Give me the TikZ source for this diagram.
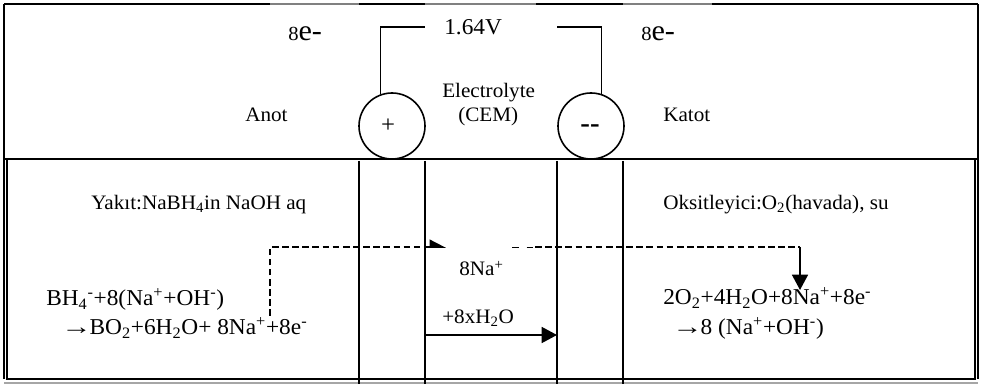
\documentclass[tikz,border=0pt]{standalone}
\usepackage{fontspec}
\setmainfont[FakeStretch=1.03]{Liberation Serif}
\usepackage{tikz}
\usetikzlibrary{arrows.meta}
\tikzset{
  lbl/.style={anchor=base west,inner sep=0pt,font=\fontsize{15.4}{18}\selectfont},
  bigeq/.style={lbl,font=\fontsize{17}{20}\selectfont},
  wire/.style={line width=1.2pt,black},
  elec/.style={draw,circle,line width=1.2pt,minimum size=49.5pt,inner sep=0pt},
  flow/.style={line width=1.2pt,dash pattern=on 5pt off 2.6pt},
  bigtip/.style={-{Triangle[length=11.5pt,width=12pt]}}
}
\newcommand{\longto}{\scalebox{1.3}[1]{→}\hspace{-1.5pt}}
\begin{document}
\begin{tikzpicture}[x=0.75pt,y=-0.75pt]
    \useasboundingbox (0,0) rectangle (985,384);
    % frame
    \draw[gray,line width=1pt] (4,4) -- (978,4);
    \draw[wire,line width=1.5pt] (4,4) -- (270,4);
    \draw[wire,line width=1.5pt] (359,4) -- (425,4);
    \draw[wire,line width=1.5pt] (536,4) -- (623,4);
    \draw[wire,line width=1.5pt] (712,4) -- (978,4);
    \draw[wire,line width=1.5pt] (4,4) -- (4,379);
    \draw[wire,line width=1.5pt] (978,4) -- (978,379);
    \draw[wire] (4,159) -- (978,159);
    \draw[wire] (7,159) -- (7,379) -- (975,379) -- (975,159);
    \draw[gray!70,line width=1pt] (4,383) -- (978,383);
    \foreach \x in {359,425,557,623} {\draw[wire] (\x,161) -- (\x,384);}
    % electrodes
    \node[elec] (plus) at (392,126) {};
    \node[elec] (minus) at (591,126) {};
    \node[lbl,anchor=center,font=\fontsize{18}{20}\selectfont] (plussign) at (388,126) {+};
    \node[lbl,anchor=center,font=\bfseries\fontsize{21}{24}\selectfont] (minussign) at (590,129) {-{}-};
    % external circuit
    \coordinate (wireleft) at (425,27);
    \coordinate (wireright) at (557,27);
    \draw[wire] (plus.110) |- (wireleft);
    \draw[wire] (minus.72) |- (wireright);
    \node[bigeq] (volt) at (444,35) {1.64V};
    \node[lbl,font=\fontsize{15}{18}\selectfont] (eleft) at (288,41) {8\fontsize{22}{24}\selectfont e-};
    \node[lbl,font=\fontsize{15}{18}\selectfont] (eright) at (641,41) {8\fontsize{22}{24}\selectfont e-};
    \node[lbl] (anot) at (245,122) {Anot};
    \node[lbl] (katot) at (663,122) {Katot};
    \node[lbl] (electro) at (442,98) {Electrolyte};
    \node[lbl] (cem) at (458,122) {(CEM)};
    % chambers
    \node[lbl] (fuel) at (91,210) {Yakıt:NaBH\textsubscript{4}in NaOH aq};
    \node[lbl] (oxid) at (663,210) {Oksitleyici:O\textsubscript{2}(havada), su};
    \node[bigeq] (anodeone) at (46,306) {BH\textsubscript{4}\textsuperscript{-}+8(Na\textsuperscript{+}+OH\textsuperscript{-})};
    \node[bigeq] (anodetwo) at (61,335) {\longto BO\textsubscript{2}+6H\textsubscript{2}O+ 8Na\textsuperscript{+}+8e\textsuperscript{-}};
    \node[bigeq] (cathodeone) at (663,305) {2O\textsubscript{2}+4H\textsubscript{2}O+8Na\textsuperscript{+}+8e\textsuperscript{-}};
    \node[bigeq] (cathodetwo) at (672,335) {\longto 8 (Na\textsuperscript{+}+OH\textsuperscript{-})};
    \node[lbl] (sodium) at (459,276) {8Na\textsuperscript{+}};
    \node[lbl] (water) at (442,324) {+8xH\textsubscript{2}O};
    % ion paths
    \coordinate (flowstart) at (270,316);
    \coordinate (flowcorner) at (270,247);
    \coordinate (flowtip) at (446,247);
    \coordinate (flowback) at (512,247);
    \coordinate (flowthick) at (535,247);
    \coordinate (flowturn) at (800,247);
    \coordinate (flowdown) at (800,290);
    \coordinate (waterin) at (425,335);
    \coordinate (waterout) at (557,335);
    \draw[flow] (flowstart) -- (flowcorner) -- (425,247);
    \draw[wire,-{Triangle[left,length=11pt,width=11pt]}] (425,247) -- (flowtip);
    \draw[line width=.5pt,dash pattern=on 5pt off 6pt] (flowback) -- (flowthick);
    \draw[flow] (flowthick) -- (flowturn);
    \draw[wire,bigtip] (flowturn) -- (flowdown);
    \draw[wire,bigtip] (waterin) -- (waterout);
\end{tikzpicture}
\end{document}
